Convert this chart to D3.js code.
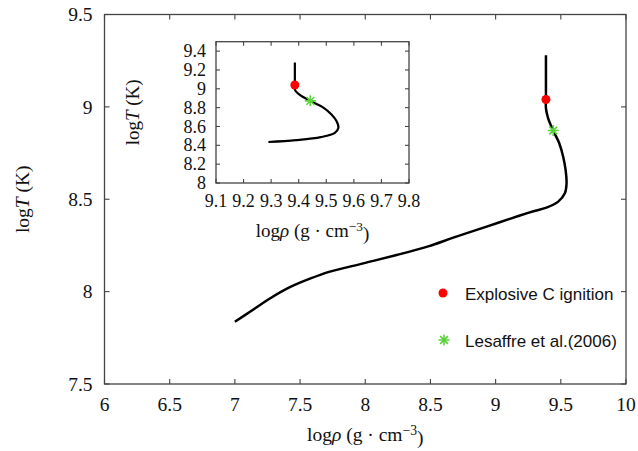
<!DOCTYPE html>
<html><head><meta charset="utf-8">
<script src="https://cdn.jsdelivr.net/npm/d3@7"></script>
<style>body{margin:0;background:#fff}svg{display:block}</style>
</head><body>
<script>
// ---- data ----
const logRho = [7.0, 7.116, 7.269, 7.422, 7.576, 7.729, 7.985, 8.241, 8.483, 8.675, 8.931, 9.186, 9.29, 9.39, 9.48, 9.531, 9.544, 9.537, 9.518, 9.488, 9.442, 9.403, 9.386, 9.386, 9.386];
const logT   = [7.837, 7.891, 7.963, 8.024, 8.070, 8.108, 8.153, 8.198, 8.245, 8.292, 8.352, 8.412, 8.435, 8.455, 8.487, 8.532, 8.586, 8.658, 8.730, 8.803, 8.871, 8.938, 8.992, 9.041, 9.28];
const ignition = {rho: 9.386, T: 9.04};
const lesaffre = {rho: 9.442, T: 8.872};
const xTicks = [6, 6.5, 7, 7.5, 8, 8.5, 9, 9.5, 10];
const yTicks = [7.5, 8, 8.5, 9, 9.5];
const insetXTicks = [9.1, 9.2, 9.3, 9.4, 9.5, 9.6, 9.7, 9.8];
const insetYTicks = [8, 8.2, 8.4, 8.6, 8.8, 9, 9.2, 9.4];
const legendLabels = ["Explosive C ignition", "Lesaffre et al.(2006)"];

const W = 638, H = 451;
const svg = d3.select("body").append("svg").attr("width", W).attr("height", H);
const serif = "'Liberation Serif', 'DejaVu Serif', serif";
const sans = "'Liberation Sans', 'DejaVu Sans', sans-serif";
const frameColor = "#444";
const red = "#ff0000", green = "#5ad33a";

const pts = logRho.map((r, i) => ({r, t: logT[i]}));

function starPath(cx, cy, s) {
  const d = s * 0.7071;
  return `M${cx-s},${cy}L${cx+s},${cy}M${cx},${cy-s}L${cx},${cy+s}` +
         `M${cx-d},${cy-d}L${cx+d},${cy+d}M${cx-d},${cy+d}L${cx+d},${cy-d}`;
}

function drawFrame(g, x, y, xt, yt, tickLen, fmtX, fmtY, opts) {
  const [x0, x1] = x.range(), [y0, y1] = y.range();
  g.append("rect").attr("x", x0).attr("y", y1).attr("width", x1 - x0).attr("height", y0 - y1)
    .attr("fill", "#fff").attr("stroke", frameColor).attr("stroke-width", 1.3);
  const tk = g.append("g").attr("stroke", frameColor).attr("stroke-width", 1.1);
  xt.forEach(v => {
    const px = x(v);
    tk.append("line").attr("x1", px).attr("x2", px).attr("y1", y0).attr("y2", y0 - tickLen);
    tk.append("line").attr("x1", px).attr("x2", px).attr("y1", y1).attr("y2", y1 + tickLen);
  });
  yt.forEach(v => {
    const py = y(v);
    tk.append("line").attr("x1", x0).attr("x2", x0 + tickLen).attr("y1", py).attr("y2", py);
    tk.append("line").attr("x1", x1).attr("x2", x1 - tickLen).attr("y1", py).attr("y2", py);
  });
  g.selectAll(null).data(xt).enter().append("text")
    .attr("x", d => x(d)).attr("y", y0 + opts.xLabDy)
    .attr("text-anchor", "middle").attr("font-family", serif).attr("font-size", opts.fs)
    .attr("fill", "#111").text(fmtX);
  g.selectAll(null).data(yt).enter().append("text")
    .attr("x", x0 - opts.yLabDx).attr("y", d => y(d)).attr("dy", "0.34em")
    .attr("text-anchor", "end").attr("font-family", serif).attr("font-size", opts.fs)
    .attr("fill", "#111").text(fmtY);
  const xt2 = g.append("text").attr("x", (x0 + x1) / 2).attr("y", opts.xTitleY)
    .attr("text-anchor", "middle").attr("font-family", serif).attr("font-size", opts.tfs).attr("fill", "#111");
  xt2.append("tspan").text("log");
  xt2.append("tspan").attr("font-style", "italic").text("ρ");
  xt2.append("tspan").text(" (g · cm");
  xt2.append("tspan").attr("dy", "-0.45em").attr("font-size", opts.tfs * 0.7).text("−3");
  xt2.append("tspan").attr("dy", "0.45em").text(")");
  const yt2 = g.append("text")
    .attr("transform", `translate(${opts.yTitleX},${(y0 + y1) / 2}) rotate(-90)`)
    .attr("text-anchor", "middle").attr("font-family", serif).attr("font-size", opts.tfs).attr("fill", "#111");
  yt2.append("tspan").text("log");
  yt2.append("tspan").attr("font-style", "italic").text("T");
  yt2.append("tspan").text(" (K)");
}

// ---- main chart ----
const x = d3.scaleLinear().domain([6, 10]).range([104.5, 626]);
const y = d3.scaleLinear().domain([7.5, 9.5]).range([384, 14.5]);
const main = svg.append("g");
drawFrame(main, x, y, xTicks, yTicks, 5, d => String(d), d => String(d),
  {fs: 19.5, tfs: 19.5, xLabDy: 27, yLabDx: 12, xTitleY: 441, yTitleX: 29});

const line = d3.line().x(d => x(d.r)).y(d => y(d.t)).curve(d3.curveCatmullRom.alpha(0.5));
main.append("path").datum(pts).attr("d", line).attr("fill", "none")
  .attr("stroke", "#000").attr("stroke-width", 2.5).attr("stroke-linejoin", "round");
main.append("circle").attr("cx", x(ignition.rho)).attr("cy", y(ignition.T)).attr("r", 4.5).attr("fill", red);
main.append("path").attr("d", starPath(x(lesaffre.rho), y(lesaffre.T), 5.5))
  .attr("stroke", green).attr("stroke-width", 1.6).attr("fill", "none");

// legend
const lg = svg.append("g");
lg.append("circle").attr("cx", 443).attr("cy", 293).attr("r", 4.5).attr("fill", red);
lg.append("path").attr("d", starPath(444, 340, 5.5)).attr("stroke", green).attr("stroke-width", 1.6).attr("fill", "none");
lg.selectAll(null).data(legendLabels).enter().append("text")
  .attr("x", 465).attr("y", (d, i) => 299.5 + i * 47)
  .attr("font-family", sans).attr("font-size", 17).attr("fill", "#111").text(d => d);

// ---- inset ----
const ix = d3.scaleLinear().domain([9.1, 9.8]).range([216, 409]);
const iy = d3.scaleLinear().domain([8, 9.5]).range([183, 41.7]);
const inset = svg.append("g");
drawFrame(inset, ix, iy, insetXTicks, insetYTicks, 4, d => d.toFixed(1), d => String(d),
  {fs: 18, tfs: 19, xLabDy: 24, yLabDx: 10, xTitleY: 237, yTitleX: 139});
const iline = d3.line().x(d => ix(d.r)).y(d => iy(d.t)).curve(d3.curveCatmullRom.alpha(0.5));
inset.append("path").datum(pts.filter(d => d.r >= 9.28)).attr("d", iline).attr("fill", "none")
  .attr("stroke", "#000").attr("stroke-width", 2.2).attr("stroke-linejoin", "round");
inset.append("circle").attr("cx", ix(ignition.rho)).attr("cy", iy(ignition.T)).attr("r", 4.5).attr("fill", red);
inset.append("path").attr("d", starPath(ix(lesaffre.rho), iy(lesaffre.T), 5.5))
  .attr("stroke", green).attr("stroke-width", 1.6).attr("fill", "none");
</script>
</body></html>
